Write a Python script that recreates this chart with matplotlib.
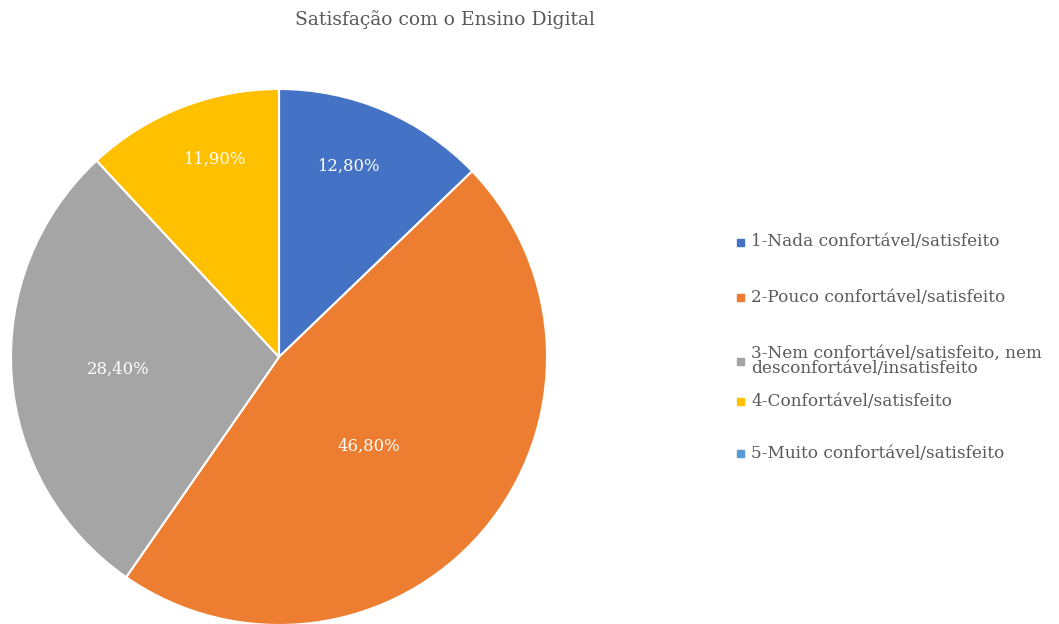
import matplotlib
matplotlib.use("Agg")
import matplotlib.pyplot as plt
import numpy as np

title = "Satisfação com o Ensino Digital"
categories = [
    "1-Nada confortável/satisfeito",
    "2-Pouco confortável/satisfeito",
    "3-Nem confortável/satisfeito, nem\ndesconfortável/insatisfeito",
    "4-Confortável/satisfeito",
    "5-Muito confortável/satisfeito",
]
values = [12.8, 46.8, 28.4, 11.9, 0.0]
colors = ["#4472C4", "#ED7D31", "#A5A5A5", "#FFC000", "#5B9BD5"]

# label placement (radial distance, angular offset in degrees)
label_dist = [0.757, 0.474, 0.60, 0.775, 0.6]
label_dang = [3.0, -4.4, 0.3, -3.2, 0.0]
legend_y = [242, 297, 361, 401, 453]

serif = ["DejaVu Serif"]
txt_color = "#595959"

fig = plt.figure(figsize=(10.59, 6.24), dpi=100)
W, H = 1059, 624
cx, cy, r = 279, 357, 268
ax = fig.add_axes([(cx - r) / W, (H - cy - r) / H, 2 * r / W, 2 * r / H])
wedges, _ = ax.pie(values, colors=colors, startangle=90, counterclock=False,
                   radius=1.0, wedgeprops=dict(edgecolor="white", linewidth=1.5))
ax.set_xlim(-1, 1)
ax.set_ylim(-1, 1)
ax.set_aspect("equal")
ax.axis("off")

for w, v, d, da in zip(wedges, values, label_dist, label_dang):
    if v <= 0:
        continue
    ang = np.deg2rad((w.theta1 + w.theta2) / 2 + da)
    ax.text(d * np.cos(ang), d * np.sin(ang), f"{v:.2f}%".replace(".", ","),
            ha="center", va="center", color="white", fontsize=11.8, family=serif)

fig.text(445 / W, 1 - 20 / H, title, ha="center", va="center",
         fontsize=13.5, color=txt_color, family=serif)

for lab, col, y in zip(categories, colors, legend_y):
    fig.patches.append(plt.Rectangle((737 / W, 1 - (y + 4) / H), 7 / W, 7 / H,
                                     transform=fig.transFigure, color=col))
    fig.text(751 / W, 1 - y / H, lab, ha="left", va="center", fontsize=12.2,
             color=txt_color, family=serif, linespacing=0.9)

fig.savefig("out.png", dpi=100)
